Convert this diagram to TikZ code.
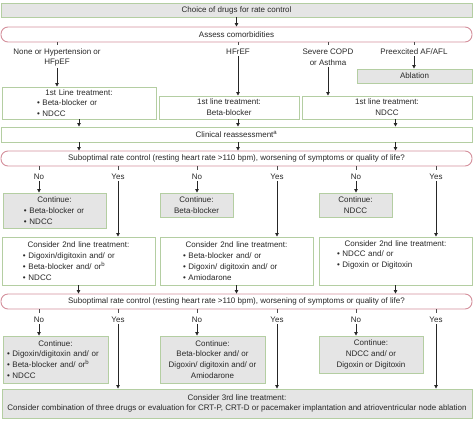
\documentclass[tikz,border=0pt]{standalone}
\usepackage{fontspec}
\setmainfont{Liberation Sans}
\usetikzlibrary{arrows.meta,calc}
\definecolor{gbord}{RGB}{180,206,162}
\definecolor{pbord}{RGB}{212,144,156}
\definecolor{gfill}{RGB}{229,229,229}
\definecolor{txt}{RGB}{40,40,40}
\newcommand\hd[1]{{\noindent\centering #1\par}}
\newcommand\bu[2]{{\leftskip=#1pt\noindent\textbullet\ #2\par}}
\begin{document}
\begin{tikzpicture}[x=1pt,y=-1pt,
  every node/.style={font=\fontsize{8}{10.8}\selectfont, text=txt},
  box/.style={draw=gbord, line width=0.9pt, inner xsep=2pt, inner ysep=0pt},
  grey/.style={box, fill=gfill},
  white/.style={box, fill=white},
  pink/.style={draw=pbord, line width=0.9pt, rounded corners=7pt, fill=white, inner sep=0pt},
  sz/.style 2 args={minimum width=#1pt, minimum height=#2pt},
  lab/.style={inner sep=1pt, align=center},
  arr/.style={-{Triangle[length=3.5pt,width=3.5pt]}, line width=0.8pt, draw=black!85},
  tick/.style={line width=0.8pt, draw=black!70}]
\useasboundingbox (0,0) rectangle (474,424);
% boxes
\node[grey, sz={471}{14}] (top) at (236.5,10) {Choice of drugs for rate control};
\node[pink, sz={471}{15}] (assess) at (236.5,34.5) {Assess comorbidities};
\node[lab] (l1) at (57,57.5) {None or Hypertension or\\HFpEF};
\node[lab] (l2) at (238,52) {HFrEF};
\node[lab] (l3) at (328,57.5) {Severe COPD\\or Asthma};
\node[lab] (l4) at (414,52) {Preexcited AF/AFL};
\node[grey, sz={115}{14}] (abl) at (414.5,76) {Ablation};
\node[white, sz={154}{32}, text width=150pt] (b1) at (79,103)
  {\hd{1st Line treatment:}\bu{33}{Beta-blocker or}\bu{33}{NDCC}};
\node[white, sz={140}{23}, align=center] (b2) at (229,107.5) {1st line treatment:\\Beta-blocker};
\node[white, sz={170}{23}, align=center] (b3) at (387,107.5) {1st line treatment:\\NDCC};
\node[white, sz={471}{15}] (clin) at (236.5,134.5) {Clinical reassessment\textsuperscript{a}};
\node[pink, sz={471}{15}] (sub1) at (236.5,158.5)
  {Suboptimal rate control (resting heart rate >110 bpm), worsening of symptoms or quality of life?};
\node[lab] (n1) at (39,177) {No};
\node[lab] (n2) at (118,177) {Yes};
\node[lab] (n3) at (197,177) {No};
\node[lab] (n4) at (277,177) {Yes};
\node[lab] (n5) at (356,177) {No};
\node[lab] (n6) at (436,177) {Yes};
\node[grey, sz={103}{35}, text width=99pt] (c1) at (54.5,210.5)
  {\hd{Continue:}\bu{19}{Beta-blocker or}\bu{19}{NDCC}};
\node[grey, sz={73}{24}, align=center] (c2) at (196.5,205) {Continue:\\Beta-blocker};
\node[grey, sz={73}{24}, align=center] (c3) at (355.5,205) {Continue:\\NDCC};
\node[white, sz={153}{48}, text width=149pt] (s1) at (78.5,261)
  {\hd{Consider 2nd line treatment:}\bu{19}{Digoxin/digitoxin and/ or}\bu{19}{Beta-blocker and/ or\textsuperscript{b}}\bu{19}{NDCC}};
\node[white, sz={153}{48}, text width=149pt] (s2) at (236.5,261)
  {\hd{Consider 2nd line treatment:}\bu{21}{Beta-blocker and/ or}\bu{21}{Digoxin/ digitoxin and/ or}\bu{21}{Amiodarone}};
\node[white, sz={153}{48}, text width=149pt] (s3) at (395.5,261)
  {\hd{Consider 2nd line treatment:}\bu{16}{NDCC and/ or}\bu{16}{Digoxin or Digitoxin}\hd{\strut}};
\node[pink, sz={471}{15}] (sub2) at (236.5,301.5)
  {Suboptimal rate control (resting heart rate >110 bpm), worsening of symptoms or quality of life?};
\node[lab] (m1) at (39,320) {No};
\node[lab] (m2) at (118,320) {Yes};
\node[lab] (m3) at (197,320) {No};
\node[lab] (m4) at (277,320) {Yes};
\node[lab] (m5) at (356,320) {No};
\node[lab] (m6) at (436,320) {Yes};
\node[grey, sz={105}{47}, text width=101pt] (d1) at (55.5,359.5)
  {\hd{Continue:}\bu{2}{Digoxin/digitoxin and/ or}\bu{2}{Beta-blocker and/ or\textsuperscript{b}}\bu{2}{NDCC}};
\node[grey, sz={105}{47}, align=center] (d2) at (212.5,359.5)
  {Continue:\\Beta-blocker and/ or\\Digoxin/ digitoxin and/ or\\Amiodarone};
\node[grey, sz={104}{37}, align=center] (d3) at (371,354.5)
  {Continue:\\NDCC and/ or\\Digoxin or Digitoxin};
\node[grey, sz={470}{29}, align=center] (third) at (237,403.5)
  {Consider 3rd line treatment:\\Consider combination of three drugs or evaluation for CRT-P, CRT-D or pacemaker implantation and atrioventricular node ablation};
% connectors
\draw[arr] (top.south) -- (assess.north);
\foreach \l in {l1,l2,l3,l4} \draw[tick] (assess.south -| \l) -- ++(0,3);
\draw[arr] (l1.south) -- (l1.south |- b1.north);
\draw[arr] (l2.south) -- (l2.south |- b2.north);
\draw[arr] (l3.south) -- (l3.south |- b3.north);
\draw[arr] (l4.south) -- (l4.south |- abl.north);
\draw[arr] (b1.south) -- (b1.south |- clin.north);
\draw[arr] (b2.south -| l2) -- (l2 |- clin.north);
\draw[arr] (b3.south -| s3) -- (s3 |- clin.north);
\draw[arr] (clin.south -| b1) -- (b1 |- sub1.north);
\draw[arr] (clin.south -| l2) -- (l2 |- sub1.north);
\draw[arr] (clin.south -| s3) -- (s3 |- sub1.north);
\foreach \n in {n1,n2,n3,n4,n5,n6} \draw[tick] (sub1.south -| \n) -- ++(0,3.5);
\draw[arr] (n1.south) -- (n1.south |- c1.north);
\draw[arr] (n3.south) -- (n3.south |- c2.north);
\draw[arr] (n5.south) -- (n5.south |- c3.north);
\draw[arr] (n2.south) -- (n2.south |- s1.north);
\draw[arr] (n4.south) -- (n4.south |- s2.north);
\draw[arr] (n6.south) -- (n6.south |- s3.north);
\draw[arr] (s1.south) -- (s1.south |- sub2.north);
\draw[arr] (s2.south) -- (s2.south |- sub2.north);
\draw[arr] (s3.south) -- (s3.south |- sub2.north);
\foreach \n in {m1,m2,m3,m4,m5,m6} \draw[tick] (sub2.south -| \n) -- ++(0,3.5);
\draw[arr] (m1.south) -- (m1.south |- d1.north);
\draw[arr] (m3.south) -- (m3.south |- d2.north);
\draw[arr] (m5.south) -- (m5.south |- d3.north);
\draw[arr] (m2.south) -- (m2.south |- third.north);
\draw[arr] (m4.south) -- (m4.south |- third.north);
\draw[arr] (m6.south) -- (m6.south |- third.north);
\end{tikzpicture}
\end{document}
